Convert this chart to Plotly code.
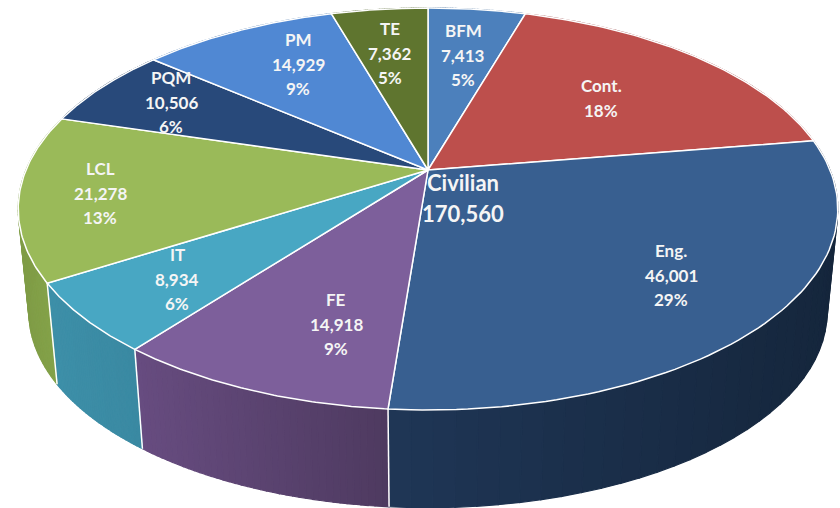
import numpy as np
import plotly.graph_objects as go

categories = ["BFM", "Cont.", "Eng.", "FE", "IT", "LCL", "PQM", "PM", "TE"]
values = [7413, 28600, 46001, 14918, 8934, 21278, 10506, 14929, 7362]
percents = ["5%", "18%", "29%", "9%", "6%", "13%", "6%", "9%", "5%"]
value_labels = ["7,413", "", "46,001", "14,918", "8,934", "21,278", "10,506", "14,929", "7,362"]
total_label = ["Civilian", "170,560"]

top_colors = ["#4c80bc", "#bd4f4c", "#385f90", "#7d5f9b", "#48a7c3",
              "#9aba59", "#28497a", "#5088d3", "#5f752f"]
side_left = ["#3d6796", "#984040", "#1f3656", "#674c80", "#3d8fa8",
             "#7f9c46", "#203b5c", "#4070a8", "#4c5e26"]
side_right = ["#3d6796", "#984040", "#15263c", "#4e3a60", "#3a89a2",
              "#86a54a", "#203b5c", "#4070a8", "#4c5e26"]

label_x = [463, 601, 671, 336, 177, 100, 171, 298, 390]
label_y = [55, 98, 275, 324, 279, 193, 102, 64, 53]
LINE_GAP = 24.3

# perspective of the disc, in screen pixels
APEX_X, APEX_Y = 428, 170
SCALE_X, SCALE_Y, TILT = 402, 193.4, 0.194
DEPTH, SHRINK = 104, 0.974


def project(theta, bottom=False):
    u, v = np.sin(theta), np.cos(theta)
    dx = SCALE_X * u / (1 + TILT * v)
    dy = -SCALE_Y * v / (1 + TILT * v)
    if bottom:
        return APEX_X + dx * SHRINK, APEX_Y + dy * SHRINK + DEPTH
    return APEX_X + dx, APEX_Y + dy


def mix(c1, c2, t):
    a = [int(c1[i:i + 2], 16) for i in (1, 3, 5)]
    b = [int(c2[i:i + 2], 16) for i in (1, 3, 5)]
    return "rgb(%d,%d,%d)" % tuple(round(p + (q - p) * t) for p, q in zip(a, b))


edges = np.concatenate([[0], np.cumsum(values)]) / sum(values) * 2 * np.pi

fig = go.Figure()

# side wall, split into strips for the shading
for i in range(len(values)):
    th = np.linspace(edges[i], edges[i + 1], 41)
    rim_x = project(th)[0]
    lo, hi = rim_x.min(), rim_x.max()
    for a, b in zip(th[:-1], th[1:]):
        t_vals = np.linspace(a, b, 4)
        tx, ty = project(t_vals)
        bx, by = project(t_vals, bottom=True)
        t = (project((a + b) / 2)[0] - lo) / max(hi - lo, 1)
        color = mix(side_left[i], side_right[i], t)
        fig.add_trace(go.Scatter(
            x=list(tx) + list(bx[::-1]) + [tx[0]],
            y=list(ty) + list(by[::-1]) + [ty[0]],
            mode="lines",
            fill="toself",
            fillcolor=color,
            line=dict(color=color, width=1.2),
            hoverinfo="skip",
        ))

# white edges between the side walls
for e in edges[3:7]:
    tx, ty = project(e)
    bx, by = project(e, bottom=True)
    fig.add_trace(go.Scatter(
        x=[tx, bx], y=[ty, by], mode="lines",
        line=dict(color="white", width=1.5), hoverinfo="skip",
    ))

# top face
for i, cat in enumerate(categories):
    th = np.linspace(edges[i], edges[i + 1], 80)
    rx, ry = project(th)
    fig.add_trace(go.Scatter(
        x=[APEX_X] + list(rx) + [APEX_X],
        y=[APEX_Y] + list(ry) + [APEX_Y],
        mode="lines",
        fill="toself",
        fillcolor=top_colors[i],
        line=dict(color="white", width=1.5),
        name=cat,
        hoverinfo="name",
    ))

for i, cat in enumerate(categories):
    lines = [cat, value_labels[i], percents[i]] if value_labels[i] else [cat, percents[i]]
    first = label_y[i] - LINE_GAP * (len(lines) - 1) / 2
    for j, line in enumerate(lines):
        fig.add_annotation(
            x=label_x[i], y=first + j * LINE_GAP,
            text=line,
            showarrow=False,
            font=dict(family="Lato", size=17, color="#f5f5f5", weight="bold"),
        )

for j, line in enumerate(total_label):
    fig.add_annotation(
        x=463, y=182 + j * 31,
        text=line,
        showarrow=False,
        font=dict(family="Lato", size=22, color="#f5f5f5", weight="bold"),
    )

fig.update_layout(
    width=840,
    height=508,
    margin=dict(t=0, b=0, l=0, r=0),
    paper_bgcolor="white",
    plot_bgcolor="white",
    showlegend=False,
    xaxis=dict(range=[0, 840], visible=False),
    yaxis=dict(range=[508, 0], visible=False),
)

fig.write_html("out.html", config=dict(displayModeBar=False),
               post_script="document.body.style.margin='0';")
